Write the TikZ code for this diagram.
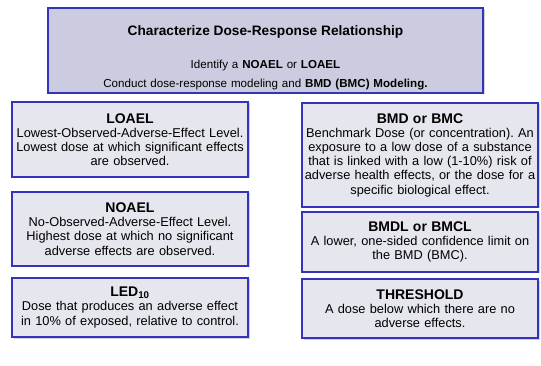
\documentclass[tikz,border=0pt]{standalone}
\usepackage{fontspec}
\setmainfont{Liberation Sans}
\usepackage{xcolor}
\usetikzlibrary{shadows}
\definecolor{boxline}{RGB}{51,51,187}
\definecolor{topfill}{RGB}{204,204,224}
\definecolor{termfill}{RGB}{230,230,238}
\frenchspacing

\tikzset{
  termbox/.style={draw=boxline, line width=1.3pt, fill=termfill, align=center, text width=232pt, minimum width=236pt, inner sep=2pt, drop shadow={shadow xshift=1.5pt, shadow yshift=-1.5pt, fill=black!35}, font=\fontsize{12.8}{14.2}\selectfont},
  topbox/.style={termbox, fill=topfill, text width=431pt, minimum width=435pt, minimum height=85pt, font=\fontsize{11.6}{19}\selectfont}
}
\newcommand{\termhead}[1]{{\bfseries\fontsize{14}{14.2}\selectfont #1}}

\begin{document}
\begin{tikzpicture}[x=1pt, y=-1pt]
  \useasboundingbox (0,0) rectangle (541,366);

  % Top
  \node[topbox] (characterize) at (265.5,50.5) {\rule{0pt}{24pt}{\bfseries\fontsize{13.7}{14}\selectfont Characterize Dose-Response Relationship}\\[14pt]
    Identify a \textbf{NOAEL} or \textbf{LOAEL}\\
    Conduct dose-response modeling and \textbf{BMD (BMC) Modeling.}};

  % Left column
  \node[termbox, minimum height=75pt] (loael) at (130,139.5) {\termhead{LOAEL}\\
    Lowest-Observed-Adverse-Effect Level.\\ Lowest dose at which significant effects\\ are observed.};
  \node[termbox, minimum height=74pt] (noael) at (130,229) {\termhead{NOAEL}\\
    No-Observed-Adverse-Effect Level.\\ Highest dose at which no significant\\ adverse effects are observed.};
  \node[termbox, minimum height=59pt] (led) at (130,307.5) {\termhead{LED\textsubscript{10}}\\
    Dose that produces an adverse effect\\ in 10\% of exposed, relative to control.};

  % Right column
  \node[termbox, minimum height=104pt] (bmd) at (420,155) {\termhead{BMD or BMC}\\
    Benchmark Dose (or concentration). An\\ exposure to a low dose of a substance\\ that is linked with a low (1-10\%) risk of\\ adverse health effects, or the dose for a\\ specific biological effect.};
  \node[termbox, minimum height=60pt] (bmdl) at (420,242) {\termhead{BMDL or BMCL}\\
    A lower, one-sided confidence limit on\\ the BMD (BMC).};
  \node[termbox, minimum height=59pt] (threshold) at (420,308.5) {\termhead{THRESHOLD}\\
    A dose below which there are no\\ adverse effects.};

\end{tikzpicture}
\end{document}
